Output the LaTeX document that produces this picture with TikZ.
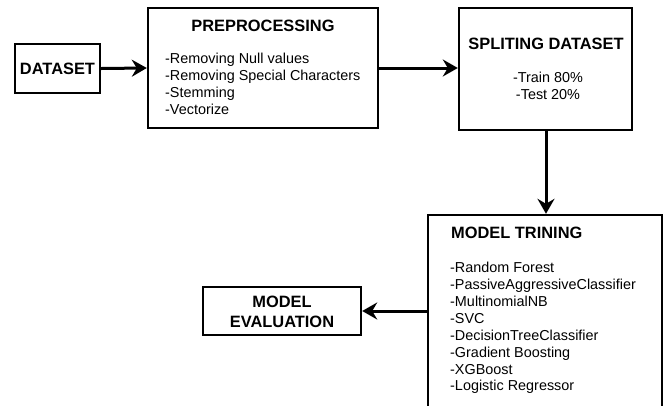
\documentclass[tikz,border=0pt]{standalone}
\usepackage{fontspec}
\setmainfont{Liberation Sans}
\usetikzlibrary{arrows.meta}
\begin{document}
\begin{tikzpicture}[x=1pt,y=-1pt,
  box/.style={draw=black,line width=2.4pt,fill=white,inner sep=0pt},
  head/.style={font=\fontsize{16.4}{20}\selectfont\bfseries,inner sep=0pt},
  body/.style={font=\fontsize{14.4}{16.9}\selectfont,inner sep=0pt,align=left},
  conn/.style={line width=3pt,-{Stealth[length=15pt,width=17pt,inset=5pt]}}]
\useasboundingbox[fill=white] (0,0) rectangle (670,405);
\begin{scope}
\clip (0,0) rectangle (670,405);
% boxes
\node[box,minimum width=85pt,minimum height=49pt] (ds) at (57.5,68.5) {};
\node[box,minimum width=230pt,minimum height=120pt] (pre) at (263,68) {};
\node[box,minimum width=173pt,minimum height=122pt] (spl) at (545.5,69) {};
\node[box,minimum width=234pt,minimum height=200pt] (mt) at (545,315) {};
\node[box,minimum width=158pt,minimum height=48pt] (ev) at (282,311) {};
\end{scope}
% texts
\node[head] (dst) at (57.5,69) {DATASET};
\node[head] (pret) at (263,26) {PREPROCESSING};
\node[body,anchor=north west] (preb) at (165,53) {-Removing Null values\\-Removing Special Characters\\-Stemming\\-Vectorize};
\node[head] (splt) at (546,43.5) {SPLITING DATASET};
\node[body,align=center,anchor=north] (splb) at (548,72) {-Train 80\%\\-Test 20\%};
\node[head,anchor=west] (mtt) at (451,233) {MODEL TRINING};
\node[body,anchor=north west] (mtb) at (450,262) {-Random Forest\\-PassiveAggressiveClassifier\\-MultinomialNB\\-SVC\\-DecisionTreeClassifier\\-Gradient Boosting\\-XGBoost\\-Logistic Regressor};
\node[head,align=center,font=\fontsize{16.4}{20.5}\selectfont\bfseries] (evt) at (282,312) {MODEL\\EVALUATION};
% connectors
\draw[conn] (ds.east) -- (pre.west);
\draw[conn] (pre.east) -- (spl.west |- pre.east);
\draw[conn] (spl.south -| 546,0) -- (546,0 |- mt.north);
\draw[conn] (mt.west |- ev.east) -- (ev.east);
\end{tikzpicture}
\end{document}
